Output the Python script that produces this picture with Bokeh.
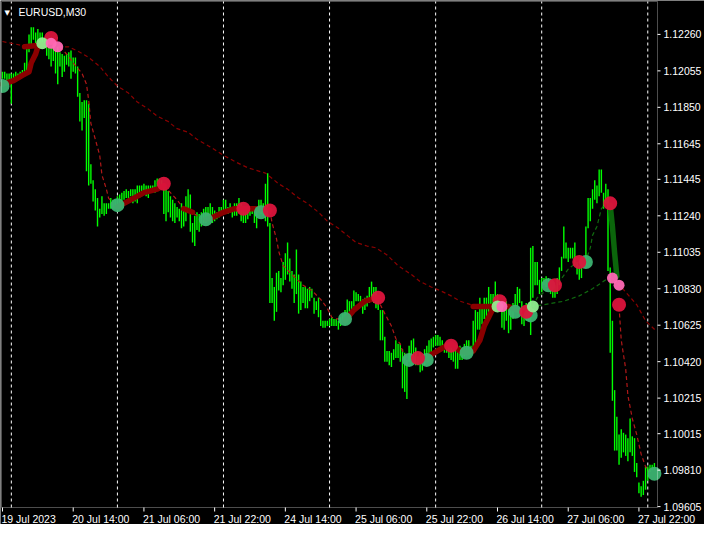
from bokeh.plotting import figure
from bokeh.models import Range1d, Label, BoxAnnotation
from bokeh.embed import file_html
from bokeh.resources import INLINE

# ---- OHLC bar extremes, EURUSD M30 (bar index 0 = 19 Jul 2023 22:00) ----
high = [1.1205, 1.1205, 1.1204, 1.1204, 1.1204, 1.1204, 1.1205, 1.1204, 1.1205, 1.1206,
        1.1210, 1.1219, 1.1226, 1.1230, 1.1230, 1.1227, 1.1229, 1.1227, 1.1227, 1.1224,
        1.1220, 1.1219, 1.1219, 1.1219, 1.1217, 1.1219, 1.1216, 1.1215, 1.1214, 1.1215,
        1.1216, 1.1217, 1.1213, 1.1213, 1.1208, 1.1193, 1.1188, 1.1189, 1.1189, 1.1187,
        1.1153, 1.1144, 1.1139, 1.1134, 1.1128, 1.1135, 1.1131, 1.1131, 1.1131, 1.1134,
        1.1133, 1.1133, 1.1135, 1.1136, 1.1137, 1.1138, 1.1139, 1.1138, 1.1139, 1.1139,
        1.1139, 1.1141, 1.1141, 1.1141, 1.1142, 1.1141, 1.1141, 1.1141, 1.1141, 1.1144,
        1.1145, 1.1145, 1.1144, 1.1142, 1.1139, 1.1138, 1.1135, 1.1133, 1.1131, 1.1129,
        1.1128, 1.1131, 1.1129, 1.1135, 1.1139, 1.1136, 1.1120, 1.1124, 1.1126, 1.1125,
        1.1126, 1.1128, 1.1129, 1.1129, 1.1131, 1.1129, 1.1127, 1.1126, 1.1129, 1.1129,
        1.1133, 1.1133, 1.1129, 1.1131, 1.1129, 1.1131, 1.1131, 1.1134, 1.1131, 1.1129,
        1.1128, 1.1128, 1.1128, 1.1128, 1.1129, 1.1129, 1.1133, 1.1133, 1.1131, 1.1142,
        1.1148, 1.1120, 1.1089, 1.1084, 1.1092, 1.1093, 1.1089, 1.1098, 1.1103, 1.1109,
        1.1100, 1.1093, 1.1091, 1.1105, 1.1091, 1.1087, 1.1084, 1.1084, 1.1083, 1.1084,
        1.1083, 1.1078, 1.1076, 1.1078, 1.1071, 1.1065, 1.1065, 1.1065, 1.1066, 1.1067,
        1.1066, 1.1066, 1.1065, 1.1067, 1.1069, 1.1071, 1.1077, 1.1076, 1.1076, 1.1082,
        1.1081, 1.1080, 1.1079, 1.1077, 1.1078, 1.1079, 1.1084, 1.1087, 1.1084, 1.1084,
        1.1078, 1.1071, 1.1071, 1.1056, 1.1048, 1.1048, 1.1047, 1.1049, 1.1054, 1.1052,
        1.1052, 1.1049, 1.1047, 1.1043, 1.1051, 1.1054, 1.1055, 1.1050, 1.1045, 1.1047,
        1.1045, 1.1049, 1.1051, 1.1054, 1.1055, 1.1056, 1.1057, 1.1057, 1.1056, 1.1054,
        1.1052, 1.1052, 1.1051, 1.1051, 1.1049, 1.1048, 1.1049, 1.1051, 1.1050, 1.1052,
        1.1054, 1.1054, 1.1051, 1.1065, 1.1071, 1.1070, 1.1078, 1.1073, 1.1078, 1.1078,
        1.1084, 1.1080, 1.1080, 1.1087, 1.1080, 1.1076, 1.1073, 1.1071, 1.1076, 1.1073,
        1.1072, 1.1075, 1.1080, 1.1084, 1.1083, 1.1076, 1.1073, 1.1075, 1.1073, 1.1106,
        1.1107, 1.1098, 1.1098, 1.1088, 1.1089, 1.1089, 1.1090, 1.1089, 1.1087, 1.1084,
        1.1085, 1.1089, 1.1095, 1.1101, 1.1118, 1.1109, 1.1106, 1.1106, 1.1106, 1.1109,
        1.1098, 1.1096, 1.1098, 1.1100, 1.1118, 1.1134, 1.1134, 1.1139, 1.1144, 1.1141,
        1.1150, 1.1150, 1.1137, 1.1142, 1.1139, 1.1095, 1.1065, 1.1026, 1.1011, 1.1001,
        1.1004, 1.1002, 1.1001, 1.0999, 1.1010, 1.1000, 1.0999, 1.0985, 1.0974, 1.0972,
        1.0975, 1.0983, 1.0983, 1.0984, 1.0984, 1.0985]
low = [1.1201, 1.1201, 1.1200, 1.1200, 1.1187, 1.1201, 1.1202, 1.1202, 1.1202, 1.1203,
       1.1204, 1.1205, 1.1216, 1.1220, 1.1223, 1.1221, 1.1222, 1.1220, 1.1221, 1.1220,
       1.1214, 1.1212, 1.1208, 1.1211, 1.1204, 1.1198, 1.1208, 1.1202, 1.1205, 1.1209,
       1.1208, 1.1201, 1.1205, 1.1204, 1.1191, 1.1177, 1.1172, 1.1179, 1.1149, 1.1141,
       1.1142, 1.1132, 1.1127, 1.1118, 1.1123, 1.1125, 1.1124, 1.1125, 1.1128, 1.1128,
       1.1128, 1.1128, 1.1129, 1.1131, 1.1132, 1.1133, 1.1134, 1.1134, 1.1135, 1.1131,
       1.1132, 1.1131, 1.1134, 1.1135, 1.1137, 1.1135, 1.1134, 1.1137, 1.1138, 1.1137,
       1.1139, 1.1141, 1.1139, 1.1125, 1.1121, 1.1126, 1.1123, 1.1121, 1.1120, 1.1123,
       1.1121, 1.1117, 1.1118, 1.1121, 1.1126, 1.1115, 1.1109, 1.1107, 1.1116, 1.1115,
       1.1118, 1.1120, 1.1120, 1.1122, 1.1124, 1.1120, 1.1121, 1.1122, 1.1123, 1.1124,
       1.1125, 1.1126, 1.1125, 1.1126, 1.1123, 1.1124, 1.1124, 1.1126, 1.1121, 1.1120,
       1.1120, 1.1122, 1.1124, 1.1125, 1.1120, 1.1117, 1.1126, 1.1125, 1.1124, 1.1121,
       1.1118, 1.1075, 1.1075, 1.1065, 1.1070, 1.1082, 1.1081, 1.1085, 1.1088, 1.1091,
       1.1087, 1.1083, 1.1075, 1.1080, 1.1069, 1.1071, 1.1075, 1.1072, 1.1072, 1.1076,
       1.1078, 1.1069, 1.1071, 1.1067, 1.1062, 1.1061, 1.1061, 1.1062, 1.1062, 1.1062,
       1.1062, 1.1062, 1.1060, 1.1062, 1.1065, 1.1065, 1.1067, 1.1070, 1.1069, 1.1073,
       1.1076, 1.1076, 1.1075, 1.1069, 1.1071, 1.1073, 1.1075, 1.1076, 1.1075, 1.1072,
       1.1071, 1.1054, 1.1054, 1.1042, 1.1042, 1.1040, 1.1039, 1.1043, 1.1044, 1.1044,
       1.1042, 1.1027, 1.1025, 1.1021, 1.1042, 1.1043, 1.1043, 1.1040, 1.1040, 1.1036,
       1.1037, 1.1040, 1.1042, 1.1046, 1.1046, 1.1050, 1.1051, 1.1051, 1.1051, 1.1049,
       1.1047, 1.1047, 1.1044, 1.1043, 1.1042, 1.1038, 1.1038, 1.1043, 1.1043, 1.1045,
       1.1047, 1.1048, 1.1046, 1.1047, 1.1052, 1.1060, 1.1060, 1.1063, 1.1066, 1.1065,
       1.1069, 1.1073, 1.1071, 1.1072, 1.1073, 1.1071, 1.1061, 1.1060, 1.1065, 1.1058,
       1.1060, 1.1066, 1.1071, 1.1073, 1.1075, 1.1063, 1.1062, 1.1065, 1.1065, 1.1057,
       1.1078, 1.1085, 1.1085, 1.1080, 1.1081, 1.1085, 1.1084, 1.1087, 1.1080, 1.1078,
       1.1078, 1.1080, 1.1085, 1.1093, 1.1100, 1.1100, 1.1098, 1.1100, 1.1100, 1.1096,
       1.1091, 1.1088, 1.1089, 1.1095, 1.1096, 1.1117, 1.1121, 1.1128, 1.1133, 1.1131,
       1.1135, 1.1137, 1.1128, 1.1131, 1.1093, 1.1047, 1.1020, 1.0992, 1.0992, 1.0984,
       1.0988, 1.0991, 1.0989, 1.0986, 1.0991, 1.0989, 1.0980, 1.0977, 1.0968, 1.0966,
       1.0967, 1.0970, 1.0975, 1.0980, 1.0981, 1.0981]
bar = list(range(len(high)))

# ---- scales ----
time_ticks = [0, 32, 64, 96, 128, 160, 192, 224, 256, 288]
time_labels = ["19 Jul 2023", "20 Jul 14:00", "21 Jul 06:00", "21 Jul 22:00", "24 Jul 14:00",
               "25 Jul 06:00", "25 Jul 22:00", "26 Jul 14:00", "27 Jul 06:00", "27 Jul 22:00"]
day_starts = [4, 52, 100, 148, 196, 244, 292]
price_ticks = [1.12260, 1.12055, 1.11850, 1.11645, 1.11445, 1.11240, 1.11035,
               1.10830, 1.10625, 1.10420, 1.10215, 1.10015, 1.09810, 1.09605]
price_floor, price_ceiling = 1.0960, 1.12445
first_bar, last_bar = -0.45, 296.4

# ---- slow moving average (dashed) ----
slow_red1_bar = [0, 8, 19, 30, 35, 39, 44, 48, 52, 57, 61, 66, 70, 75, 79, 84, 88, 95, 100, 106,
                 111, 119, 125, 129, 134, 138, 143, 147, 152, 156, 160, 165, 169, 174, 179, 185,
                 189, 194, 198, 203, 207, 212, 216, 221, 228, 235, 239]
slow_red1_val = [1.1222, 1.1220, 1.1219, 1.1219, 1.1216, 1.1213, 1.1208, 1.1202, 1.1197, 1.1193,
                 1.1188, 1.1184, 1.1180, 1.1177, 1.1173, 1.1171, 1.1167, 1.1162, 1.1158, 1.1154,
                 1.1151, 1.1148, 1.1142, 1.1139, 1.1134, 1.1131, 1.1126, 1.1121, 1.1117, 1.1113,
                 1.1109, 1.1107, 1.1106, 1.1102, 1.1096, 1.1091, 1.1087, 1.1084, 1.1082, 1.1079,
                 1.1076, 1.1074, 1.1073, 1.1072, 1.1072, 1.1072, 1.1073]
slow_green_bar = [239, 245, 254, 261, 267, 273, 276]
slow_green_val = [1.1073, 1.1074, 1.1076, 1.1079, 1.1083, 1.1088, 1.1089]
slow_red2_bar = [276, 280, 287, 291, 296]
slow_red2_val = [1.1089, 1.1084, 1.1074, 1.1065, 1.1059]

# ---- fast moving average (dashed) ----
fast_red_bars = [
    [26, 29, 32, 36, 38, 39, 40, 42, 44, 45, 47, 48, 50],
    [73, 76, 79, 82, 86, 90],
    [121, 122, 124, 125, 127, 131, 136, 140, 144, 147, 149, 151, 155],
    [170, 171, 173, 176, 178, 180, 181, 184],
    [279, 280, 282, 283, 285, 287, 289, 291, 293],
]
fast_red_vals = [
    [1.1219, 1.1215, 1.1210, 1.1204, 1.1198, 1.1189, 1.1176, 1.1167, 1.1158, 1.1147, 1.1139, 1.1134, 1.1131],
    [1.1141, 1.1137, 1.1133, 1.1128, 1.1126, 1.1122],
    [1.1127, 1.1120, 1.1111, 1.1104, 1.1096, 1.1091, 1.1085, 1.1082, 1.1077, 1.1072, 1.1067, 1.1066, 1.1066],
    [1.1078, 1.1074, 1.1069, 1.1062, 1.1055, 1.1052, 1.1048, 1.1043],
    [1.1073, 1.1054, 1.1038, 1.1023, 1.1010, 1.1001, 1.0990, 1.0983, 1.0980],
]
fast_green_bar = [240, 242, 248, 250, 252, 256, 258, 261, 264, 266, 267, 269, 271, 273, 275]
fast_green_val = [1.1073, 1.1078, 1.1084, 1.1085, 1.1087, 1.1094, 1.1096, 1.1098, 1.1099,
                  1.1106, 1.1113, 1.1118, 1.1128, 1.1131, 1.1130]

# ---- thick trend segments ----
thick_red_bars = [
    [0, 5, 9, 12, 13, 15, 16, 18],
    [10, 18],
    [52, 58, 64, 70, 73],
    [82, 86],
    [92, 95, 100, 105, 109, 115, 121],
    [155, 159, 164, 170],
    [192, 194, 201, 203, 207, 210],
    [210, 213, 216, 218, 220, 222, 225],
    [213, 229, 235, 237],
]
thick_red_vals = [
    [1.1198, 1.1200, 1.1203, 1.1205, 1.1210, 1.1215, 1.1219, 1.1220],
    [1.1219, 1.1220],
    [1.1129, 1.1133, 1.1137, 1.1139, 1.1141],
    [1.1128, 1.1126],
    [1.1122, 1.1123, 1.1126, 1.1128, 1.1128, 1.1128, 1.1127],
    [1.1065, 1.1071, 1.1076, 1.1078],
    [1.1043, 1.1046, 1.1051, 1.1052, 1.1048, 1.1047],
    [1.1047, 1.1048, 1.1054, 1.1062, 1.1067, 1.1072, 1.1074],
    [1.1073, 1.1073, 1.1070, 1.1070],
]
thick_green_bar = [275, 276, 277, 278]
thick_green_val = [1.1130, 1.1118, 1.1103, 1.1090]

# ---- signal dots ----
green_bar = [0, 52, 92, 117, 155, 184, 192, 210, 232, 239, 247, 264, 295]
green_val = [1.1197, 1.1130, 1.1122, 1.1126, 1.1066, 1.1043, 1.1043, 1.1047, 1.1070, 1.1068,
             1.1085, 1.1098, 1.0979]
crimson_bar = [22, 73, 109, 121, 170, 188, 203, 225, 237, 250, 261, 275, 279]
crimson_val = [1.1224, 1.1142, 1.1128, 1.1127, 1.1078, 1.1044, 1.1051, 1.1076, 1.1070, 1.1085,
               1.1098, 1.1131, 1.1074]
light_bar = [18, 224, 240]
light_val = [1.1221, 1.1073, 1.1073]
pink_bar = [22, 25, 226, 276, 279]
pink_val = [1.1221, 1.1219, 1.1073, 1.1089, 1.1085]

# ---- layout: the whole canvas is one frame, the terminal's scales are drawn inside it ----
FONT = "Liberation Sans"
W, H = 704, 524
RIGHT_SCALE_PX = 47        # price scale strip on the right
BOTTOM_SCALE_PX = 17       # time scale strip at the bottom
px_per_bar = (W - 1 - RIGHT_SCALE_PX) / (last_bar - first_bar)
price_per_px = (price_ceiling - price_floor) / (H - 1 - BOTTOM_SCALE_PX)
x_start = first_bar - 1 / px_per_bar
x_end = last_bar + RIGHT_SCALE_PX / px_per_bar
y_start = price_floor - BOTTOM_SCALE_PX * price_per_px
y_end = price_ceiling + 1 * price_per_px

p = figure(width=W, height=H, output_backend="svg", toolbar_location=None,
           x_range=Range1d(x_start, x_end), y_range=Range1d(y_start, y_end),
           background_fill_color="black", border_fill_color="black",
           min_border=0)
p.outline_line_color = None
p.axis.visible = False
p.grid.visible = False

# chart window border
p.add_layout(BoxAnnotation(left=first_bar, right=last_bar, bottom=price_floor, top=price_ceiling,
                           fill_alpha=0, line_color="white", line_width=1))

# day separators (dashed)
p.segment(x0=day_starts, y0=price_floor, x1=day_starts, y1=price_ceiling,
          line_color="white", line_width=1, line_dash="3 3")

# price bars
p.segment(x0=bar, y0=low, x1=bar, y1=high, line_color="#00ff00", line_width=1.4)

# moving averages
p.line(slow_red1_bar, slow_red1_val, line_color="#8b0000", line_width=1.2, line_dash="4 3")
p.line(slow_green_bar, slow_green_val, line_color="#0f6a0f", line_width=1.2, line_dash="4 3")
p.line(slow_red2_bar, slow_red2_val, line_color="#8b0000", line_width=1.2, line_dash="4 3")
p.multi_line(fast_red_bars, fast_red_vals, line_color="#b01818", line_width=1.2, line_dash="4 3")
p.line(fast_green_bar, fast_green_val, line_color="#0f6a0f", line_width=1.2, line_dash="4 3")

# thick segments
p.multi_line(thick_red_bars, thick_red_vals, line_color="#8b0000", line_width=5.5,
             line_cap="round", line_join="round")
p.line(thick_green_bar, thick_green_val, line_color="#0b650b", line_width=5.5,
       line_cap="round", line_join="round")

# dots
p.scatter(green_bar, green_val, size=14, fill_color="#3cb371", fill_alpha=0.95, line_alpha=0)
p.scatter(crimson_bar, crimson_val, size=14, fill_color="#dc143c", fill_alpha=0.95, line_alpha=0)
p.scatter(light_bar, light_val, size=12, fill_color="#90ee90", fill_alpha=0.95, line_alpha=0)
p.scatter(pink_bar, pink_val, size=11, fill_color="#ff69b4", fill_alpha=0.95, line_alpha=0)

# price scale: tick marks right of the window and labels
p.segment(x0=[last_bar] * len(price_ticks), y0=price_ticks,
          x1=[last_bar + 3 / px_per_bar] * len(price_ticks), y1=price_ticks,
          line_color="white", line_width=1)
for v in price_ticks:
    p.add_layout(Label(x=last_bar, y=v, text=f"{v:.5f}", text_align="left",
                       text_baseline="middle", x_offset=6, text_color="white",
                       text_font=FONT, text_font_size="10.5px"))

# time scale: tick marks under the window and left-aligned labels
p.segment(x0=time_ticks, y0=[price_floor] * len(time_ticks), x1=time_ticks,
          y1=[price_floor - 4 * price_per_px] * len(time_ticks),
          line_color="white", line_width=1)
for t, lab in zip(time_ticks, time_labels):
    p.add_layout(Label(x=t, y=price_floor, text=lab, text_align="left", text_baseline="top",
                       x_offset=-1, y_offset=-5, text_color="white", text_font=FONT,
                       text_font_size="10.5px"))

# symbol caption
p.add_layout(Label(x=4, y=price_ceiling, x_units="screen", y_units="data", text="\u25bc",
                   text_color="white", text_font="DejaVu Sans", text_font_size="7px",
                   text_baseline="top", y_offset=-7))
p.add_layout(Label(x=18, y=price_ceiling, x_units="screen", y_units="data", text="EURUSD,M30",
                   text_color="white", text_font=FONT, text_font_size="10.5px",
                   text_baseline="top", y_offset=-4))

open("out.html", "w").write(file_html(p, INLINE))
